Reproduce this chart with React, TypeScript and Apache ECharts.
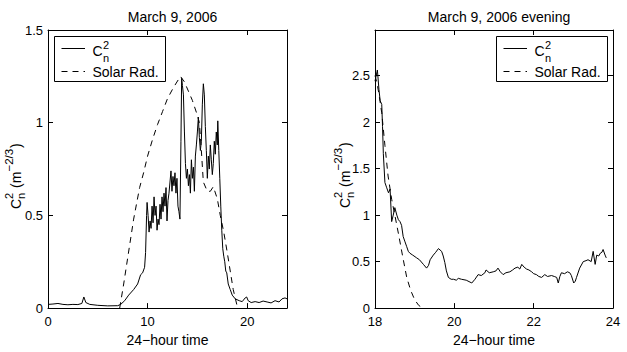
import React, { useEffect, useRef } from "react";
import * as echarts from "echarts";

// ---------- data ----------
const leftTime = [0, 0.5, 1, 1.5, 2, 2.5, 3, 3.4, 3.6, 3.8, 4.2, 5, 6, 7, 7.3, 7.7, 8.1, 8.6, 9.0, 9.3, 9.5, 9.7, 9.8, 9.9, 9.95, 10.05, 10.15, 10.25, 10.35, 10.45, 10.55, 10.65, 10.75, 10.85, 10.95, 11.05, 11.15, 11.25, 11.35, 11.45, 11.55, 11.65, 11.75, 11.85, 11.95, 12.05, 12.15, 12.25, 12.35, 12.45, 12.55, 12.65, 12.75, 12.85, 12.95, 13.05, 13.15, 13.25, 13.35, 13.42, 13.5, 13.6, 13.7, 13.8, 13.9, 14.0, 14.1, 14.2, 14.3, 14.4, 14.5, 14.6, 14.7, 14.8, 14.9, 15.0, 15.1, 15.2, 15.3, 15.4, 15.5, 15.6, 15.7, 15.8, 15.9, 16.0, 16.1, 16.2, 16.3, 16.4, 16.5, 16.6, 16.7, 16.8, 16.9, 17.0, 17.05, 17.15, 17.25, 17.35, 17.45, 17.55, 17.65, 17.75, 17.85, 17.95, 18.1, 18.3, 18.5, 18.8, 19.2, 19.5, 19.8, 19.95, 20.1, 20.4, 20.8, 21.2, 21.6, 22.0, 22.4, 22.8, 23.2, 23.5, 23.8, 24];
const leftCn2 = [0.02, 0.022, 0.025, 0.02, 0.018, 0.02, 0.019, 0.025, 0.06, 0.03, 0.02, 0.015, 0.012, 0.013, 0.02, 0.04, 0.07, 0.1, 0.13, 0.18, 0.19, 0.22, 0.3, 0.5, 0.57, 0.5, 0.41, 0.47, 0.43, 0.55, 0.46, 0.6, 0.5, 0.55, 0.42, 0.48, 0.45, 0.56, 0.48, 0.6, 0.52, 0.62, 0.55, 0.65, 0.47, 0.58, 0.62, 0.68, 0.74, 0.63, 0.71, 0.66, 0.73, 0.62, 0.7, 0.55, 0.52, 0.48, 0.9, 1.24, 1.2, 1.15, 0.95, 0.78, 0.7, 0.75, 0.66, 0.72, 0.62, 0.8, 0.7, 0.76, 0.63, 0.82, 0.88, 0.95, 1.03, 0.92, 0.85, 0.9, 1.1, 1.21, 1.15, 0.98, 0.85, 0.7, 0.82, 0.75, 0.88, 0.8, 0.72, 0.78, 0.9, 0.83, 0.95, 0.88, 1.01, 0.85, 0.7, 0.55, 0.42, 0.32, 0.28, 0.25, 0.2, 0.19, 0.13, 0.1, 0.07, 0.05, 0.04, 0.035, 0.055, 0.06, 0.04, 0.03, 0.035, 0.03, 0.038, 0.033, 0.028, 0.04, 0.033, 0.05, 0.055, 0.05];

const leftSolarTime = [7.2, 7.6, 8.0, 8.6, 9.2, 9.6, 10.0, 10.5, 11.0, 11.5, 12.0, 12.6, 13.3, 13.7, 14.1, 14.5, 15.0, 15.2, 15.4, 15.6, 16.0, 16.3, 16.6, 17.0, 17.3, 17.65, 18.0, 18.3, 18.6, 19.0, 19.1];
const leftSolar = [0, 0.13, 0.27, 0.48, 0.65, 0.73, 0.82, 0.91, 0.99, 1.06, 1.13, 1.19, 1.25, 1.22, 1.17, 1.12, 1.04, 1.0, 0.85, 0.68, 0.63, 0.63, 0.655, 0.59, 0.5, 0.41, 0.3, 0.2, 0.1, 0.01, 0];

const rightTime = [18.0, 18.03, 18.06, 18.1, 18.13, 18.17, 18.19, 18.21, 18.25, 18.29, 18.34, 18.38, 18.42, 18.46, 18.5, 18.55, 18.59, 18.63, 18.67, 18.71, 18.75, 18.8, 18.84, 18.88, 18.95, 19.05, 19.12, 19.22, 19.3, 19.35, 19.39, 19.47, 19.53, 19.6, 19.68, 19.72, 19.76, 19.8, 19.85, 19.92, 19.98, 20.05, 20.1, 20.18, 20.3, 20.44, 20.52, 20.6, 20.68, 20.77, 20.8, 20.88, 20.98, 21.05, 21.1, 21.16, 21.23, 21.3, 21.4, 21.47, 21.53, 21.6, 21.65, 21.7, 21.76, 21.82, 21.88, 21.95, 22.0, 22.07, 22.13, 22.2, 22.28, 22.35, 22.45, 22.52, 22.58, 22.62, 22.66, 22.7, 22.78, 22.85, 22.91, 22.95, 23.01, 23.05, 23.08, 23.16, 23.25, 23.32, 23.37, 23.45, 23.5, 23.55, 23.59, 23.64, 23.68, 23.72, 23.75, 23.8, 23.83];
const rightCn2 = [2.44, 2.5, 2.56, 2.35, 2.23, 2.19, 1.95, 1.66, 1.35, 1.3, 1.24, 1.28, 0.93, 1.0, 1.08, 1.0, 0.95, 0.93, 0.89, 0.77, 0.72, 0.66, 0.61, 0.59, 0.57, 0.54, 0.52, 0.47, 0.43, 0.46, 0.52, 0.57, 0.6, 0.64, 0.61, 0.56, 0.49, 0.4, 0.33, 0.31, 0.31, 0.3, 0.32, 0.31, 0.3, 0.27, 0.31, 0.36, 0.35, 0.38, 0.41, 0.38, 0.39, 0.4, 0.43, 0.39, 0.36, 0.38, 0.39, 0.41, 0.43, 0.44, 0.42, 0.47, 0.44, 0.42, 0.41, 0.39, 0.37, 0.36, 0.34, 0.33, 0.36, 0.34, 0.35, 0.34, 0.33, 0.27, 0.34, 0.38, 0.37, 0.39, 0.38, 0.35, 0.27, 0.29, 0.33, 0.43, 0.5, 0.51, 0.52, 0.5, 0.61, 0.47, 0.57, 0.56, 0.59, 0.6, 0.63, 0.57, 0.54];

const rightSolarTime = [18.0, 18.05, 18.1, 18.17, 18.25, 18.33, 18.42, 18.5, 18.6, 18.7, 18.8, 18.9, 19.0, 19.1, 19.2];
const rightSolar = [2.5, 2.42, 2.3, 2.1, 1.75, 1.42, 1.17, 1.0, 0.78, 0.55, 0.33, 0.19, 0.09, 0.03, 0];

const titles = ["March 9, 2006", "March 9, 2006 evening"];
const seriesNames = ["C\u2099\u00b2", "Solar Rad."];
const xName = "24\u2212hour time";

const FONT = '"Liberation Sans", Arial, Helvetica, sans-serif';

function zip(a: number[], b: number[]) {
  return a.map((t, i) => [t, b[i]]);
}

function yLabel(cx: number, cy: number) {
  const t = (text: string, x: number, y: number, size: number) => ({
    type: "text",
    style: {
      text,
      x,
      y,
      fill: "#000",
      fontSize: size,
      fontFamily: FONT,
      textAlign: "left",
      align: "left",
      textVerticalAlign: "middle",
      verticalAlign: "middle",
    },
  });
  return {
    type: "group",
    x: cx,
    y: cy,
    rotation: Math.PI / 2,
    children: [
      t("C", -34, 0, 14),
      t("2", -24, -7, 11),
      t("n", -24, 5, 11),
      t("(m", -13, 0, 14),
      t("\u22122/3", 3.5, -7, 11.5),
      t(")", 27, 0, 14),
    ],
  };
}

function legend(x0: number, y0: number) {
  const txt = (text: string, x: number, y: number, size: number) => ({
    type: "text",
    style: {
      text,
      x,
      y,
      fill: "#000",
      fontSize: size,
      fontFamily: FONT,
      textAlign: "left",
      align: "left",
      textVerticalAlign: "middle",
      verticalAlign: "middle",
    },
  });
  return {
    type: "group",
    x: x0,
    y: y0,
    children: [
      {
        type: "rect",
        shape: { x: 0.5, y: 0.5, width: 111, height: 45 },
        style: { fill: "#fff", stroke: "#000", lineWidth: 1 },
      },
      {
        type: "line",
        shape: { x1: 7.5, y1: 12.5, x2: 31, y2: 12.5 },
        style: { stroke: "#000", lineWidth: 1 },
      },
      {
        type: "line",
        shape: { x1: 7.5, y1: 35.5, x2: 31, y2: 35.5 },
        style: { stroke: "#000", lineWidth: 1, lineDash: [6, 5] },
      },
      txt("C", 38.5, 15, 14),
      txt("2", 49, 9, 11),
      txt("n", 49, 22, 11),
      txt("Solar Rad.", 38.5, 36, 14),
    ],
  };
}

export default function App() {
  const ref = useRef<HTMLDivElement>(null);

  useEffect(() => {
    if (!ref.current) return;
    const chart = echarts.init(ref.current, null, { renderer: "svg" });

    const axisLineStyle = { color: "#000", width: 1 };
    const labelStyle = { color: "#000", fontSize: 13, fontFamily: FONT };

    const xAxis = (grid: number, min: number, max: number, interval: number, bottom: boolean) => ({
      type: "value",
      gridIndex: grid,
      min,
      max,
      interval,
      position: bottom ? "bottom" : "top",
      axisLine: { show: true, onZero: false, lineStyle: axisLineStyle },
      axisTick: { show: true, inside: true, length: 5, lineStyle: axisLineStyle },
      axisLabel: bottom
        ? { ...labelStyle, show: true, margin: 7, showMaxLabel: grid === 1 }
        : { show: false },
      splitLine: { show: false },
      name: bottom ? xName : "",
      nameLocation: "middle",
      nameGap: 22,
      nameTextStyle: { color: "#000", fontSize: 14, fontFamily: FONT },
    });

    const yAxis = (grid: number, max: number, left: boolean) => ({
      type: "value",
      gridIndex: grid,
      min: 0,
      max,
      interval: 0.5,
      position: left ? "left" : "right",
      axisLine: { show: true, onZero: false, lineStyle: axisLineStyle },
      axisTick: { show: true, inside: true, length: 5, lineStyle: axisLineStyle },
      axisLabel: left
        ? { ...labelStyle, show: true, margin: 5, showMaxLabel: grid === 0 }
        : { show: false },
      splitLine: { show: false },
    });

    const line = (name: string, data: number[][], grid: number, dashed: boolean) => ({
      name,
      type: "line",
      xAxisIndex: grid * 2,
      yAxisIndex: grid * 2,
      data,
      showSymbol: false,
      symbol: "none",
      lineStyle: dashed
        ? { color: "#000", width: 1, type: [6, 5] }
        : { color: "#000", width: 1 },
      z: dashed ? 2 : 3,
    });

    chart.setOption({
      animation: false,
      backgroundColor: "#fff",
      title: [
        {
          text: titles[0],
          left: 167.5,
          top: 5,
          textAlign: "center",
          textStyle: { color: "#000", fontSize: 14, fontWeight: "normal", fontFamily: FONT },
        },
        {
          text: titles[1],
          left: 494,
          top: 5,
          textAlign: "center",
          textStyle: { color: "#000", fontSize: 14, fontWeight: "normal", fontFamily: FONT },
        },
      ],
      grid: [
        { left: 48, top: 30, width: 239, height: 284 },
        { left: 375, top: 30, width: 238, height: 284 },
      ],
      xAxis: [
        xAxis(0, 0, 24, 10, true),
        xAxis(0, 0, 24, 10, false),
        xAxis(1, 18, 24, 2, true),
        xAxis(1, 18, 24, 2, false),
      ],
      yAxis: [
        yAxis(0, 1.5, true),
        yAxis(0, 1.5, false),
        yAxis(1, 2.99, true),
        yAxis(1, 2.99, false),
      ],
      series: [
        line(seriesNames[1], zip(leftSolarTime, leftSolar), 0, true),
        line(seriesNames[0], zip(leftTime, leftCn2), 0, false),
        line(seriesNames[1], zip(rightSolarTime, rightSolar), 1, true),
        line(seriesNames[0], zip(rightTime, rightCn2), 1, false),
      ],
      graphic: [yLabel(16, 175), yLabel(345, 174), legend(54, 36), legend(496, 36)],
    });

    return () => chart.dispose();
  }, []);

  return (
    <div
      ref={ref}
      style={{ position: "fixed", left: 0, top: 0, width: 627, height: 352, background: "#fff" }}
    />
  );
}
